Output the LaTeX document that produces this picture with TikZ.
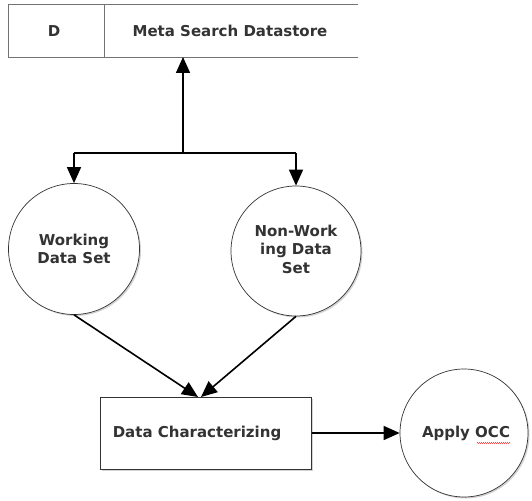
\documentclass[tikz,border=0pt]{standalone}
\usepackage{fontspec}
\setmainfont{DejaVu Sans}
\usetikzlibrary{arrows.meta,shadows,decorations.pathmorphing}
\begin{document}
\begin{tikzpicture}[x=1pt,y=-1pt,
  lbl/.style={font=\bfseries\fontsize{15}{18.5}\selectfont, text=black!80, align=center},
  proc/.style={circle, draw=black!80, line width=0.7pt, fill=white,
    drop shadow={opacity=0.35, shadow xshift=1.5pt, shadow yshift=-1.5pt}},
  flow/.style={line width=1.6pt, -{Triangle[width=14pt,length=16pt]}},
  edge/.style={line width=0.7pt, draw=black!55}]
\useasboundingbox (0,0) rectangle (532,500);

% datastore symbol, open on the right
\draw[edge] (358,4) -- (8,4) -- (8,57) -- (358,57);
\draw[edge] (104,4) -- (104,57);
\node[lbl] (dsid) at (54,31) {D};
\node[lbl] (ds) at (230,31) {Meta Search Datastore};
\coordinate (dsin) at (183,57);

% processes
\node[proc, minimum size=131pt] (work) at (74,249) {};
\node[lbl] at (work) {Working\\Data Set};
\node[proc, minimum size=130pt] (nonwork) at (296,251) {};
\node[lbl] at (296,249) {Non-Work\\ing Data\\Set};

\node[draw=black!80, line width=0.7pt, fill=white, minimum width=211pt, minimum height=72pt,
  drop shadow={opacity=0.35, shadow xshift=1.5pt, shadow yshift=-1.5pt}] (char) at (206,433) {};
\node[lbl] at (197,433) {Data Characterizing};

\node[proc, minimum size=128pt] (occ) at (464,433) {};
\node[lbl] (occtext) at (466,433) {Apply OCC};
% wavy underline beneath the acronym
\coordinate (sqa) at (477,443);
\coordinate (sqb) at (510,443);
\draw[red!70, line width=0.4pt, decorate,
  decoration={zigzag, amplitude=0.8pt, segment length=2pt}] (sqa) -- (sqb);

% connectors
\coordinate (junc) at (183,153);
\draw[flow] (junc) -- (dsin);
\draw[line width=1.6pt] (work.north |- junc) -- (nonwork.north |- junc);
\draw[flow] (work.north |- junc) -- (work.north);
\draw[flow] (nonwork.north |- junc) -- (nonwork.north);
\draw[flow] (work.south) -- (198,397);
\draw[flow] (nonwork.south) -- (201,397);
\draw[flow] (char.east) -- (occ.west);
\end{tikzpicture}
\end{document}
